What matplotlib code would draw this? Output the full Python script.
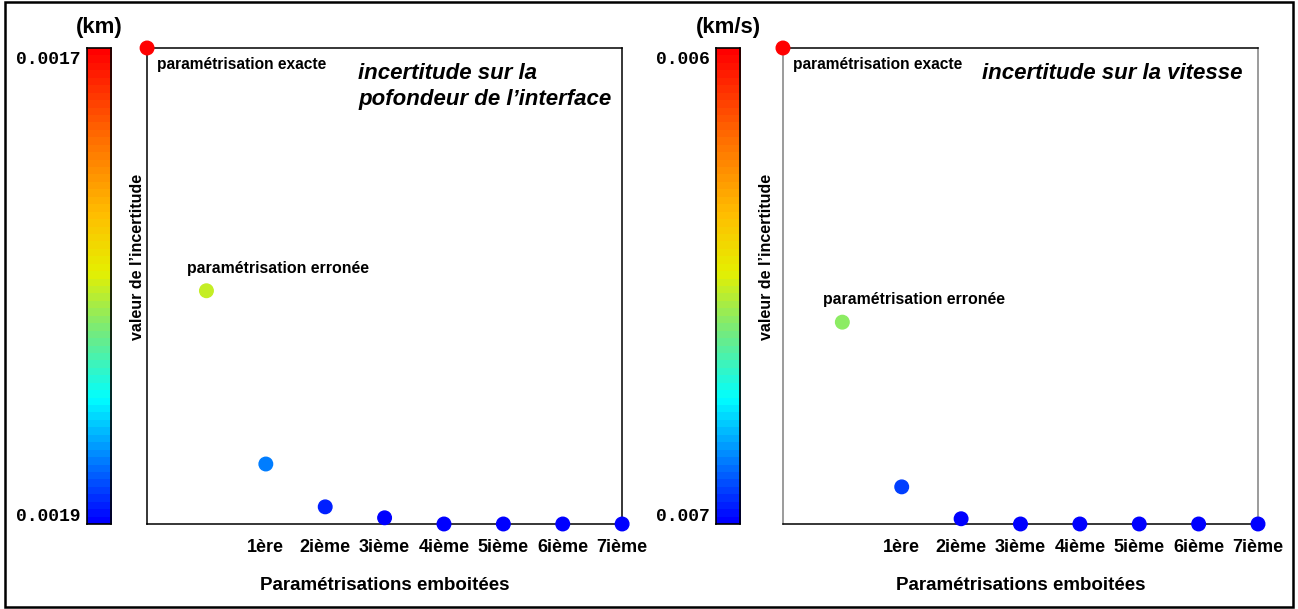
import matplotlib
matplotlib.use("Agg")
import matplotlib.pyplot as plt
from matplotlib.colors import LinearSegmentedColormap
from matplotlib.patches import Rectangle
import numpy as np

# --- données (incertitude normalisée, 0 = bas de l'échelle, 1 = haut) ---
rangs = [0, 1, 2, 3, 4, 5, 6, 7, 8]
etiquettes_x = ["1ère", "2ième", "3ième", "4ième", "5ième", "6ième", "7ième"]
incert_profondeur = [1.0, 0.49, 0.126, 0.036, 0.013, 0.0, 0.0, 0.0, 0.0]
incert_vitesse = [1.0, 0.424, 0.078, 0.011, 0.0, 0.0, 0.0, 0.0, 0.0]
echelle_profondeur = ["0.0017", "0.0019"]
echelle_vitesse = ["0.006", "0.007"]

plt.rcParams['font.family'] = ['Liberation Sans', 'DejaVu Sans']

# palette arc-en-ciel en paliers, comme la barre de couleur d'origine
arcenciel = LinearSegmentedColormap.from_list("arcenciel", [
    (0.00, (0.00, 0.00, 1.00)),
    (0.13, (0.00, 0.50, 1.00)),
    (0.26, (0.00, 1.00, 1.00)),
    (0.40, (0.45, 0.92, 0.50)),
    (0.53, (0.90, 0.94, 0.00)),
    (0.65, (1.00, 0.75, 0.00)),
    (0.82, (1.00, 0.42, 0.00)),
    (1.00, (1.00, 0.00, 0.00)),
], N=64)

fig = plt.figure(figsize=(12.98, 6.09), dpi=100)
fig.patches.append(Rectangle((0.004, 0.004), 0.992, 0.992, transform=fig.transFigure,
                             fill=False, edgecolor='black', linewidth=1.8))


def panneau(x_ax, x_cb, valeurs, unite, echelle, titre, gris=False):
    ax = fig.add_axes([x_ax, 0.1396, 0.366, 0.7816])
    cb = fig.add_axes([x_cb, 0.1396, 0.0185, 0.7816])

    # barre de couleur
    grad = np.linspace(0, 1, 64).reshape(-1, 1)
    cb.imshow(grad, cmap=arcenciel, aspect='auto', origin='lower', extent=[0, 1, 0, 1])
    cb.set_xticks([])
    cb.set_yticks([])
    for s in cb.spines.values():
        s.set_linewidth(1.2)
    cb.text(-0.25, 0.975, echelle[0], transform=cb.transAxes, ha='right', va='center',
            family='Liberation Mono', fontweight='bold', fontsize=13)
    cb.text(-0.25, 0.015, echelle[1], transform=cb.transAxes, ha='right', va='center',
            family='Liberation Mono', fontweight='bold', fontsize=13)
    cb.text(0.5, 1.02, unite, transform=cb.transAxes, ha='center', va='bottom',
            fontweight='bold', fontsize=16)
    cb.text(2.1, 0.56, "valeur de l’incertitude", transform=cb.transAxes, rotation=90,
            ha='center', va='center', fontweight='bold', fontsize=11.5)

    # nuage de points
    ax.scatter(rangs, valeurs, c=valeurs, cmap=arcenciel, vmin=0, vmax=1,
               s=95, zorder=3, clip_on=False)
    ax.set_xlim(0, 8)
    ax.set_ylim(0, 1)
    ax.set_yticks([])
    ax.set_xticks(rangs[2:])
    ax.set_xticklabels(etiquettes_x, fontweight='bold', fontsize=13)
    ax.tick_params(axis='x', length=0, pad=11)
    ax.set_xlabel("Paramétrisations emboitées", fontweight='bold', fontsize=13.5, labelpad=15)
    for s in ax.spines.values():
        s.set_linewidth(1.1)
    if gris:
        ax.spines['left'].set_color('grey')
        ax.spines['right'].set_color('grey')

    ax.annotate("paramétrisation exacte", (rangs[0], valeurs[0]), xytext=(7, -12),
                textcoords='offset points', ha='left', va='center',
                fontweight='bold', fontsize=11.2)
    ax.annotate("paramétrisation erronée", (rangs[1], valeurs[1]), xytext=(-14, 16),
                textcoords='offset points', ha='left', va='center',
                fontweight='bold', fontsize=11.4)
    ax.text(titre[0], 0.968, titre[1], transform=ax.transAxes, ha='left', va='top',
            fontweight='bold', fontstyle='italic', fontsize=16, linespacing=1.3)
    return ax


panneau(0.1133, 0.067, incert_profondeur, "(km)", echelle_profondeur,
        (0.445, "incertitude sur la\npofondeur de l’interface"))
panneau(0.6032, 0.5516, incert_vitesse, "(km/s)", echelle_vitesse,
        (0.42, "incertitude sur la vitesse"), gris=True)

fig.savefig("out.png", dpi=100)
